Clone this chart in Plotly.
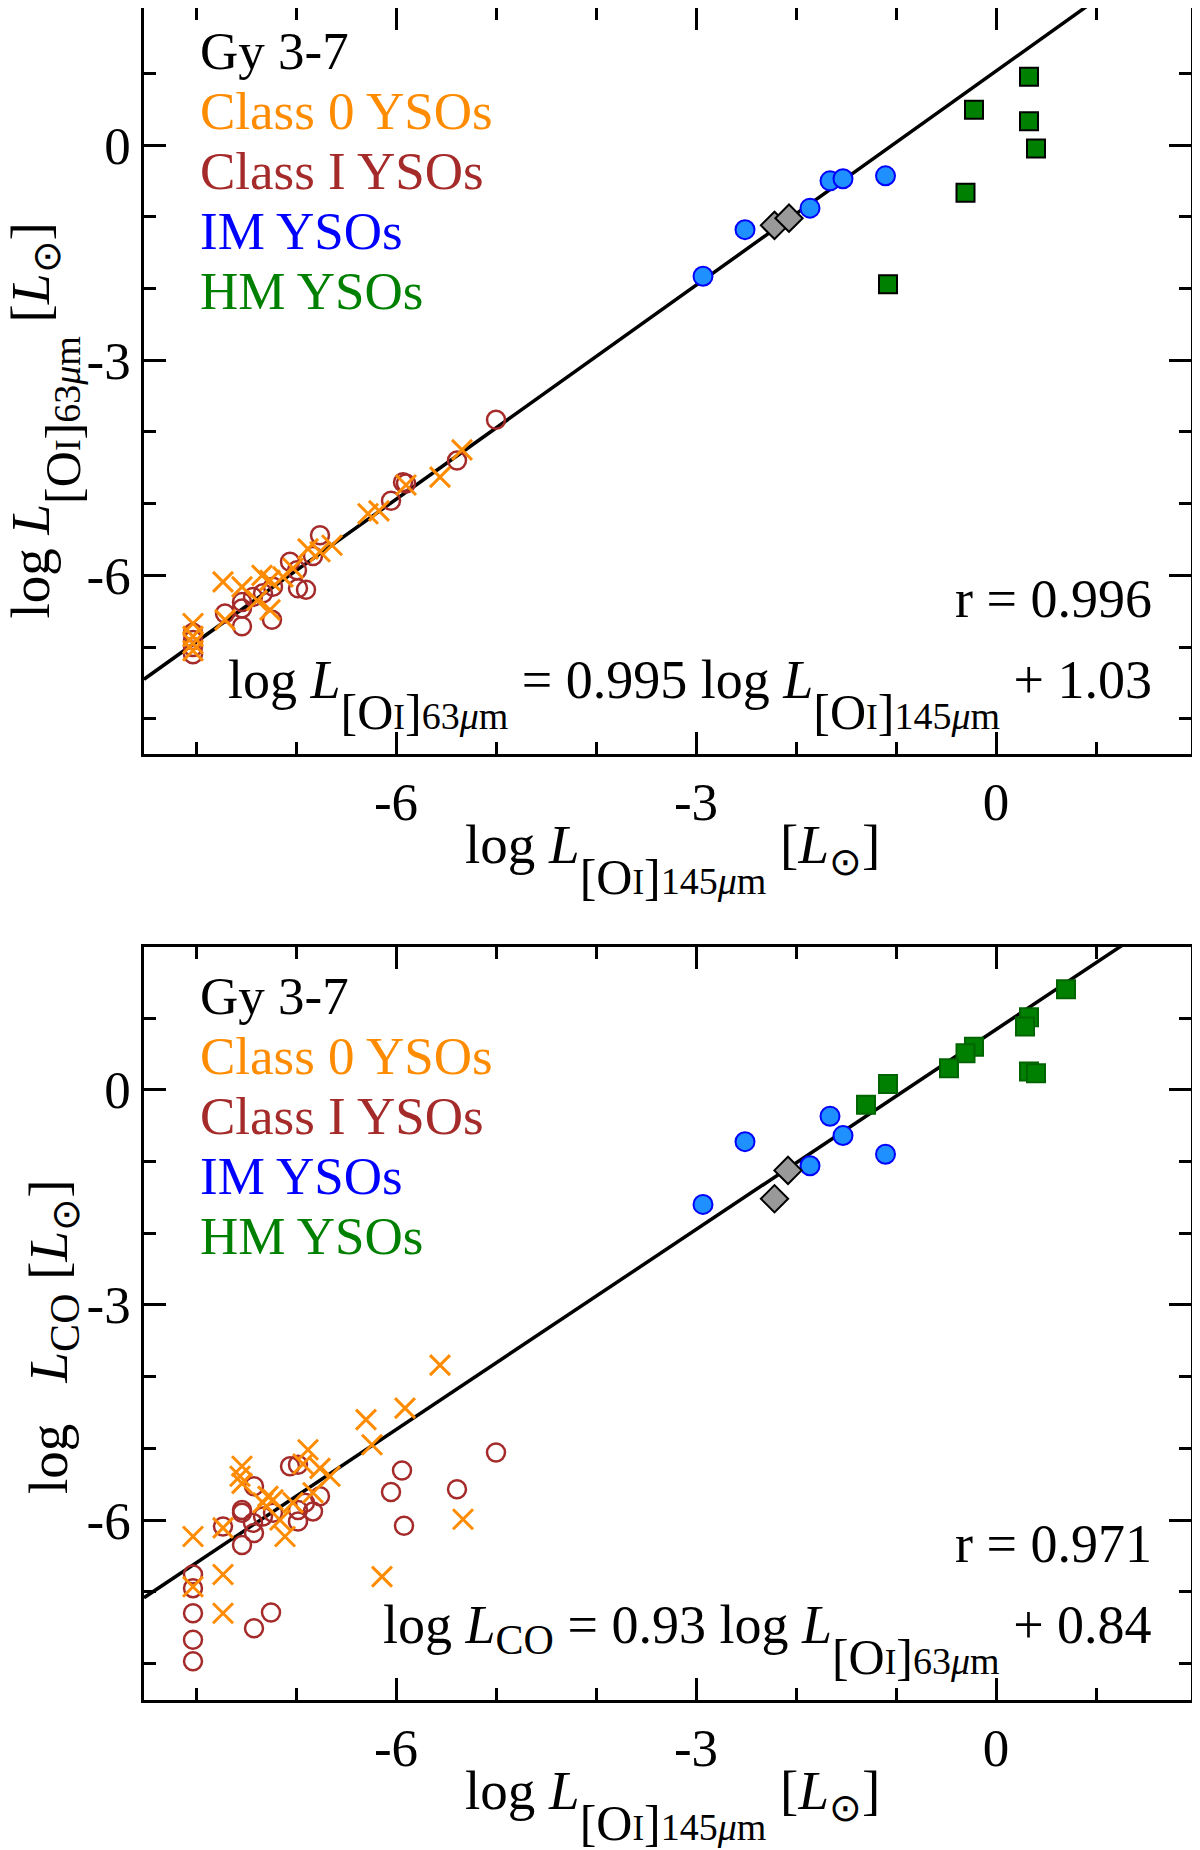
import numpy as np
import plotly.graph_objects as go

FONT = "Liberation Serif"

# ---- data ----
# top panel: log L[OI]145 vs log L[OI]63
c0_top_x = [-5.34, -5.56, -5.90, -6.17, -6.28, -6.64, -6.76, -6.88, -7.03, -7.13, -7.26,
            -7.34, -7.73, -7.54, -7.26, -7.39, -7.71, -8.03, -8.03, -8.03, -8.03]
c0_top_y = [-4.25, -4.63, -4.74, -5.10, -5.14, -5.58, -5.67, -5.63, -5.90, -6.02, -6.07,
            -6.00, -6.09, -6.16, -6.48, -6.35, -6.62, -6.67, -6.85, -6.95, -7.05]
c1_top_x = [-5.00, -5.39, -5.93, -5.90, -6.05, -6.76, -6.83, -7.06, -6.99, -6.98, -6.90, -7.23,
            -7.33, -7.43, -7.54, -7.54, -7.24, -7.54, -7.71, -8.03, -8.03, -8.03, -8.03]
c1_top_y = [-3.83, -4.40, -4.70, -4.72, -4.96, -5.44, -5.73, -5.81, -5.93, -6.18, -6.20, -6.16,
            -6.25, -6.30, -6.37, -6.46, -6.62, -6.71, -6.53, -6.80, -6.90, -7.00, -7.10]
im_x = [-2.93, -2.51, -1.86, -1.66, -1.53, -1.105]
im_top_y = [-1.83, -1.18, -0.88, -0.50, -0.47, -0.43]
gy_top_x = [-2.215, -2.07]
gy_top_y = [-1.12, -1.02]
hm_top_x = [0.33, -0.22, 0.33, 0.40, -0.305, -1.08]
hm_top_y = [0.95, 0.49, 0.33, -0.05, -0.665, -1.94]

# bottom panel: log L[OI] vs log L_CO
c0_bot_x = [-5.56, -5.91, -6.30, -6.24, -6.88, -6.93, -6.76, -6.66, -7.54, -7.56, -7.54, -7.28, -7.23,
            -7.33, -7.03, -6.83, -7.16, -7.73, -8.03, -7.11, -5.33, -6.14, -7.73, -8.03, -7.73]
c0_bot_y = [-3.84, -4.44, -4.60, -4.95, -5.02, -5.22, -5.28, -5.39, -5.25, -5.39, -5.49, -5.67, -5.72,
            -5.76, -5.76, -5.62, -6.00, -6.11, -6.23, -6.23, -5.99, -6.79, -6.76, -6.93, -7.30]
c1_bot_x = [-5.00, -5.94, -6.05, -5.39, -5.92, -7.06, -6.98, -7.42, -6.76, -6.91, -6.98, -6.83, -6.98, -7.54,
            -7.54, -7.33, -7.23, -7.43, -7.42, -7.73, -7.54, -8.03, -8.03, -8.03, -8.03, -8.03, -7.42, -7.25]
c1_bot_y = [-5.06, -5.31, -5.61, -5.57, -6.08, -5.25, -5.23, -5.53, -5.67, -5.76, -5.86, -5.88, -6.02, -5.86,
            -5.90, -5.95, -5.90, -6.04, -6.18, -6.09, -6.35, -6.76, -6.95, -7.30, -7.67, -7.97, -7.51, -7.29]
im_bot_y = [-1.60, -0.725, -1.06, -0.37, -0.64, -0.90]
gy_bot_x = [-2.215, -2.08]
gy_bot_y = [-1.52, -1.125]
hm_bot_x = [0.70, 0.33, 0.29, -0.22, -0.305, -0.47, 0.33, 0.40, -1.08, -1.30]
hm_bot_y = [1.40, 1.01, 0.88, 0.60, 0.51, 0.30, 0.255, 0.23, 0.08, -0.21]

fit_top = (0.995, 1.03)
fit_bot = (0.93, 0.84)
r_top = "0.996"
r_bot = "0.971"

legend_names = ["Gy 3-7", "Class 0 YSOs", "Class I YSOs", "IM YSOs", "HM YSOs"]
legend_colors = ["black", "darkorange", "#A52A2A", "blue", "green"]

# visible windows (the page body adds an 8 px margin, so the edges are trimmed a bit)
X_RANGE = [-8.52, 1.95]
TOP_Y_RANGE = [-8.49, 1.91]
BOT_Y_RANGE = [-8.51, 1.99]
major_ticks = [-6, -3, 0]
major_text = ["-6", "-3", "0"]
minor_ticks = [-8, -7, -5, -4, -2, -1, 1]

# page geometry in pixels
W, H, PAD = 1184, 1842, 8
PLOT_L, PLOT_R = 144, 1191
TOP_PANEL = (8, 754)
BOT_PANEL = (947, 1700)
PLOT_T, PLOT_B = TOP_PANEL[0], BOT_PANEL[1]


def dx(px):
    return X_RANGE[0] + (px - PLOT_L) / (PLOT_R - PLOT_L) * (X_RANGE[1] - X_RANGE[0])


def dy(py, panel, yr):
    return yr[1] - (py - panel[0]) / (panel[1] - panel[0]) * (yr[1] - yr[0])


def paper_x(px):
    return (px - PLOT_L) / (PLOT_R - PLOT_L)


def paper_y(py):
    return (PLOT_B - py) / (PLOT_B - PLOT_T)


def oi_sub(wave):
    # big, lowered [O I] subscript like the LaTeX original
    return ("<span style='font-size:148px'><sub>"
            "<span style='font-size:50px'>[O</span>"
            "<span style='font-size:35px'>I</span>"
            "<span style='font-size:50px'>]</span>"
            f"<span style='font-size:38px'>{wave}<i>μ</i>m</span>"
            "</sub></span>")


LSUN = "[<i>L</i><sub>⊙</sub>]"
CO = "<sub><span style='font-size:42px'>CO</span></sub>"

fig = go.Figure()


def add_panel(xa, ya, c0x, c0y, c1x, c1y, imy, gyx, gyy, hmx, hmy, fit, hm_edge):
    xl = np.array(X_RANGE)
    fig.add_trace(go.Scatter(x=xl, y=fit[0] * xl + fit[1], mode="lines",
                             line=dict(color="black", width=3.5), xaxis=xa, yaxis=ya))
    fig.add_trace(go.Scatter(x=c1x, y=c1y, mode="markers", xaxis=xa, yaxis=ya,
                             marker=dict(symbol="circle-open", size=18, color="#A52A2A",
                                         line=dict(width=2.5))))
    fig.add_trace(go.Scatter(x=c0x, y=c0y, mode="markers", xaxis=xa, yaxis=ya,
                             marker=dict(symbol="x-thin", size=20,
                                         line=dict(width=3, color="darkorange"))))
    fig.add_trace(go.Scatter(x=im_x, y=imy, mode="markers", xaxis=xa, yaxis=ya,
                             marker=dict(symbol="circle", size=19, color="dodgerblue",
                                         line=dict(width=2, color="blue"))))
    fig.add_trace(go.Scatter(x=gyx, y=gyy, mode="markers", xaxis=xa, yaxis=ya,
                             marker=dict(symbol="diamond", size=21, color="#999999",
                                         line=dict(width=2, color="black"))))
    fig.add_trace(go.Scatter(x=hmx, y=hmy, mode="markers", xaxis=xa, yaxis=ya,
                             marker=dict(symbol="square", size=18, color="green",
                                         line=dict(width=2, color=hm_edge))))


add_panel("x", "y", c0_top_x, c0_top_y, c1_top_x, c1_top_y, im_top_y,
          gy_top_x, gy_top_y, hm_top_x, hm_top_y, fit_top, "black")
add_panel("x2", "y2", c0_bot_x, c0_bot_y, c1_bot_x, c1_bot_y, im_bot_y,
          gy_bot_x, gy_bot_y, hm_bot_x, hm_bot_y, fit_bot, "darkgreen")

axis_style = dict(tickvals=major_ticks, ticktext=major_text,
                  ticks="inside", ticklen=22, tickwidth=3, tickcolor="black",
                  showline=True, linecolor="black", linewidth=2.5, mirror="allticks",
                  showgrid=False, zeroline=False, automargin=False,
                  tickfont=dict(family=FONT, size=53, color="black"),
                  minor=dict(tickvals=minor_ticks, ticks="inside", ticklen=12,
                             tickwidth=2.5, tickcolor="black", showgrid=False))

ann = []
eq_top = ("log <i>L</i>" + oi_sub("63") + " = %.3f log <i>L</i>" % fit_top[0]
          + oi_sub("145") + " + %.2f" % fit_top[1])
eq_bot = ("log <i>L</i>" + CO + " = %.2f log <i>L</i>" % fit_bot[0]
          + oi_sub("63") + " + %.2f" % fit_bot[1])

for xa, ya, panel, yr, off, r, eq in (("x", "y", TOP_PANEL, TOP_Y_RANGE, 0, r_top, eq_top),
                                      ("x2", "y2", BOT_PANEL, BOT_Y_RANGE, 945, r_bot, eq_bot)):
    for i, (name, col) in enumerate(zip(legend_names, legend_colors)):
        ann.append(dict(xref=xa, yref=ya, x=dx(198), y=dy(51 + 60 * i + off, panel, yr), text=name,
                        xanchor="left", yanchor="middle", showarrow=False,
                        font=dict(family=FONT, size=53, color=col)))
    ann.append(dict(xref=xa, yref=ya, x=dx(1154), y=dy(599 + off, panel, yr), text="r = " + r,
                    xanchor="right", yanchor="middle", showarrow=False,
                    font=dict(family=FONT, size=54, color="black")))
    ann.append(dict(xref=xa, yref=ya, x=dx(1154), y=dy(742 + off, panel, yr), text=eq,
                    xanchor="right", yanchor="bottom", showarrow=False,
                    font=dict(family=FONT, size=54, color="black")))

xtitle = "log <i>L</i>" + oi_sub("145") + " " + LSUN
for py in (907, 1853):
    ann.append(dict(xref="paper", yref="paper", x=paper_x(672), y=paper_y(py), text=xtitle,
                    xanchor="center", yanchor="bottom", showarrow=False,
                    font=dict(family=FONT, size=55, color="black")))

ann.append(dict(xref="paper", yref="paper", x=paper_x(92), y=paper_y(421), textangle=-90,
                text="log <i>L</i>" + oi_sub("63") + " " + LSUN,
                xanchor="right", yanchor="middle", showarrow=False,
                font=dict(family=FONT, size=55, color="black")))
ann.append(dict(xref="paper", yref="paper", x=paper_x(90), y=paper_y(1337), textangle=-90,
                text="log&nbsp;&nbsp; <i>L</i>" + CO + " " + LSUN,
                xanchor="right", yanchor="middle", showarrow=False,
                font=dict(family=FONT, size=55, color="black")))

fig.update_layout(
    width=W, height=H,
    margin=dict(l=PLOT_L - PAD, r=W + PAD - PLOT_R, t=PLOT_T - PAD, b=H + PAD - PLOT_B,
                autoexpand=False),
    paper_bgcolor="white", plot_bgcolor="white",
    showlegend=False,
    font=dict(family=FONT, size=53, color="black"),
    xaxis=dict(domain=[0, 1], anchor="y", range=X_RANGE, **axis_style),
    yaxis=dict(domain=[paper_y(TOP_PANEL[1]), 1.0], anchor="x", range=TOP_Y_RANGE, **axis_style),
    xaxis2=dict(domain=[0, 1], anchor="y2", range=X_RANGE, **axis_style),
    yaxis2=dict(domain=[0.0, paper_y(BOT_PANEL[0])], anchor="x2", range=BOT_Y_RANGE, **axis_style),
    annotations=ann,
)

fig.write_html("out.html")
